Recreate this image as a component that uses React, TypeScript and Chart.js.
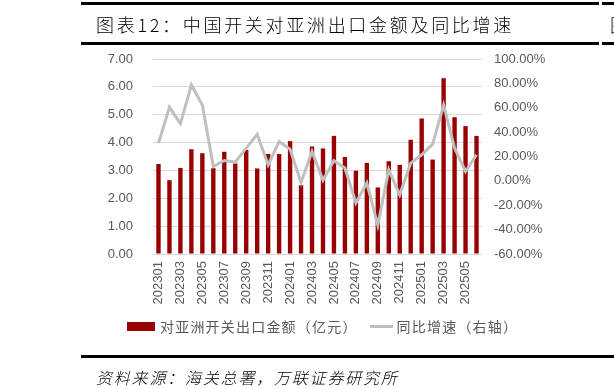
import React, { useEffect, useRef } from "react";
import { Chart, registerables } from "chart.js";

Chart.register(...registerables);

const months = [
  "202301","202302","202303","202304","202305","202306","202307","202308","202309","202310",
  "202311","202312","202401","202402","202403","202404","202405","202406","202407","202408",
  "202409","202410","202411","202412","202501","202502","202503","202504","202505","202506",
];
const exportValue = [
  3.23, 2.65, 3.09, 3.76, 3.62, 3.08, 3.67, 3.25, 3.74, 3.07,
  3.59, 3.59, 4.05, 2.47, 3.86, 3.79, 4.24, 3.48, 2.99, 3.27,
  2.39, 3.33, 3.20, 4.10, 4.86, 3.39, 6.31, 4.91, 4.59, 4.24,
];
const yoyGrowth = [
  31.0, 60.5, 47.0, 78.7, 62.3, 11.8, 16.7, 15.4, 26.9, 38.3,
  13.2, 32.3, 26.0, -1.3, 24.1, 0.6, 16.5, 10.5, -18.2, -1.8,
  -36.5, 9.1, -11.4, 14.6, 21.4, 30.1, 62.3, 26.9, 7.7, 21.4,
];
const leftTicks = [0, 1, 2, 3, 4, 5, 6, 7];
const rightTicks = [-60, -40, -20, 0, 20, 40, 60, 80, 100];

const titleText = "图表12：中国开关对亚洲出口金额及同比增速";
const sourceText = "资料来源：海关总署，万联证券研究所";
const barLabel = "对亚洲开关出口金额（亿元）";
const lineLabel = "同比增速（右轴）";

const BAR_COLOR = "#990000";
const LINE_COLOR = "#BFBFBF";
const TICK_COLOR = "#595959";
const TICK_FONT = { family: "'Liberation Sans', Arial, sans-serif", size: 13 };
const CJK = "'Noto Sans CJK SC', sans-serif";

export default function App() {
  const canvasRef = useRef<HTMLCanvasElement | null>(null);

  useEffect(() => {
    const canvas = canvasRef.current;
    if (!canvas) return;
    const chart = new Chart(canvas, {
      type: "bar",
      data: {
        labels: months,
        datasets: [
          {
            type: "line",
            label: lineLabel,
            data: yoyGrowth,
            yAxisID: "yR",
            borderColor: LINE_COLOR,
            backgroundColor: LINE_COLOR,
            borderWidth: 3,
            pointRadius: 0,
            tension: 0,
            order: 0,
          } as any,
          {
            type: "bar",
            label: barLabel,
            data: exportValue,
            yAxisID: "yL",
            backgroundColor: BAR_COLOR,
            barPercentage: 0.4,
            categoryPercentage: 1,
            order: 1,
          },
        ],
      },
      options: {
        responsive: false,
        animation: false,
        devicePixelRatio: 1,
        layout: { padding: { left: 0, right: 0, top: 59, bottom: 0 } },
        plugins: { legend: { display: false }, tooltip: { enabled: false } },
        scales: {
          x: {
            grid: { display: false, drawTicks: false },
            border: { display: false },
            ticks: {
              autoSkip: false,
              minRotation: 90,
              maxRotation: 90,
              padding: 7,
              color: TICK_COLOR,
              font: TICK_FONT,
              callback: (_v: any, i: number) => (i % 2 === 0 ? months[i] : ""),
            },
            afterFit: (s: any) => {
              s.height = 135;
            },
          },
          yL: {
            position: "left",
            min: leftTicks[0],
            max: leftTicks[leftTicks.length - 1],
            afterBuildTicks: (s: any) => {
              s.ticks = leftTicks.map((v) => ({ value: v }));
            },
            grid: { color: "#D9D9D9", lineWidth: 1, drawTicks: false },
            border: { display: false },
            ticks: {
              padding: 20,
              color: TICK_COLOR,
              font: TICK_FONT,
              callback: (v: any) => Number(v).toFixed(2),
            },
            afterFit: (s: any) => {
              s.width = 153;
            },
          },
          yR: {
            position: "right",
            min: rightTicks[0],
            max: rightTicks[rightTicks.length - 1],
            afterBuildTicks: (s: any) => {
              s.ticks = rightTicks.map((v) => ({ value: v }));
            },
            grid: { display: false, drawTicks: false },
            border: { display: false },
            ticks: {
              padding: 12,
              color: TICK_COLOR,
              font: TICK_FONT,
              callback: (v: any) => Number(v).toFixed(2) + "%",
            },
            afterFit: (s: any) => {
              s.width = 132;
            },
          },
        },
      },
    });
    return () => chart.destroy();
  }, []);

  return (
    <div
      style={{
        position: "fixed",
        left: 0,
        top: 0,
        width: 614,
        height: 389,
        background: "#fff",
        overflow: "hidden",
      }}
    >
      <canvas ref={canvasRef} width={614} height={389} style={{ position: "absolute", left: 0, top: 0 }} />
      {/* title rules */}
      <div style={{ position: "absolute", left: 81, top: 2, width: 518, height: 3, background: "#000" }} />
      <div style={{ position: "absolute", left: 602, top: 2, width: 12, height: 3, background: "#000" }} />
      <div style={{ position: "absolute", left: 81, top: 42, width: 518, height: 3, background: "#000" }} />
      <div style={{ position: "absolute", left: 602, top: 42, width: 12, height: 3, background: "#000" }} />
      <div
        style={{
          position: "absolute",
          left: 96,
          top: 12,
          fontFamily: CJK,
          fontSize: 18,
          fontWeight: 300,
          lineHeight: "24px",
          letterSpacing: 2.7,
          color: "#000",
          whiteSpace: "nowrap",
        }}
      >
        {titleText}
      </div>
      <div
        style={{
          position: "absolute",
          left: 610,
          top: 12,
          fontFamily: CJK,
          fontSize: 18,
          fontWeight: 300,
          lineHeight: "24px",
          color: "#000",
          whiteSpace: "nowrap",
        }}
      >
        图
      </div>
      {/* legend */}
      <div
        style={{
          position: "absolute",
          left: 127,
          top: 316,
          display: "flex",
          alignItems: "center",
          fontFamily: CJK,
          fontSize: 14,
          letterSpacing: 1.2,
          color: TICK_COLOR,
          whiteSpace: "nowrap",
          lineHeight: "20px",
        }}
      >
        <span style={{ display: "inline-block", width: 28, height: 9, background: BAR_COLOR, marginRight: 5 }} />
        <span>{barLabel}</span>
        <span style={{ display: "inline-block", width: 23, height: 3, background: LINE_COLOR, marginLeft: 12, marginRight: 4 }} />
        <span>{lineLabel}</span>
      </div>
      {/* source rule */}
      <div style={{ position: "absolute", left: 81, top: 355, width: 533, height: 3, background: "#000" }} />
      <div
        style={{
          position: "absolute",
          left: 96,
          top: 366,
          fontFamily: CJK,
          fontSize: 16,
          fontWeight: 300,
          fontStyle: "italic",
          lineHeight: "22px",
          letterSpacing: 1.8,
          color: "#000",
          whiteSpace: "nowrap",
        }}
      >
        {sourceText}
      </div>
    </div>
  );
}
